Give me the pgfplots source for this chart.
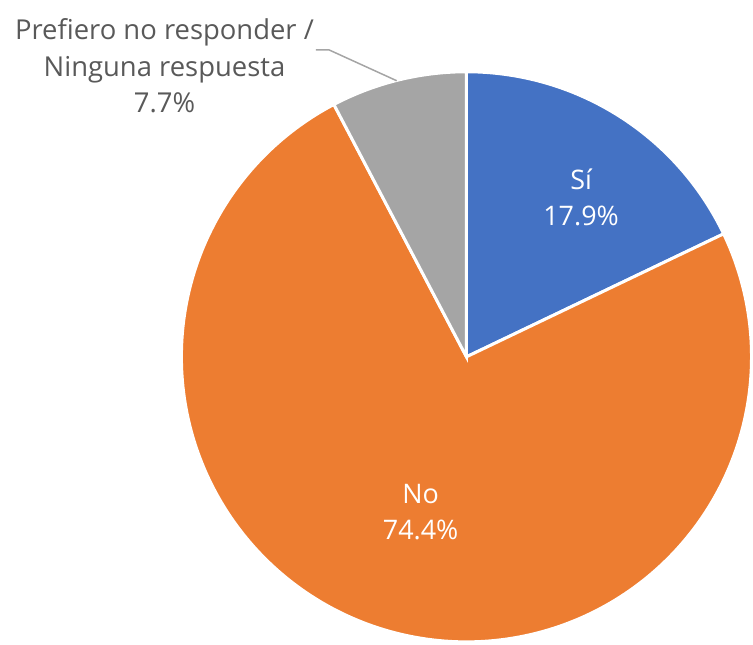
\documentclass[border=0pt]{standalone}
\usepackage{pgfplots}
\usepackage{pgfplotstable}
\pgfplotsset{compat=1.18}
\usepackage{fontspec}
\setmainfont{Open Sans}
\definecolor{cBlue}{HTML}{4472C4}
\definecolor{cOrange}{HTML}{ED7D31}
\definecolor{cGray}{HTML}{A5A5A5}
\definecolor{cText}{HTML}{595959}
\pgfplotstableread{
label share
Si 17.9
No 74.4
Pref 7.7
}\sharetable
\pgfplotstablegetelem{0}{share}\of\sharetable\let\sA\pgfplotsretval
\pgfplotstablegetelem{1}{share}\of\sharetable\let\sB\pgfplotsretval
\pgfplotstablegetelem{2}{share}\of\sharetable\let\sC\pgfplotsretval
\pgfmathsetmacro{\aA}{\sA*3.6}
\pgfmathsetmacro{\aB}{(\sA+\sB)*3.6}
\def\cx{468}\def\cy{358}\def\R{286}
\begin{document}
\begin{tikzpicture}
\begin{axis}[
  width=753pt, height=647pt, scale only axis,
  xmin=0, xmax=753, ymin=0, ymax=647, y dir=reverse,
  hide axis, clip=false,
]
\addplot[draw=none, forget plot] coordinates {(0,0) (753,647)};
\addplot[fill=cBlue, draw=white, line width=3pt, samples=120, domain=0:\aA, variable=\t]
  ({\cx+\R*sin(t)}, {\cy-\R*cos(t)}) -- (axis cs:\cx,\cy) -- cycle;
\addplot[fill=cOrange, draw=white, line width=3pt, samples=240, domain=\aA:\aB, variable=\t]
  ({\cx+\R*sin(t)}, {\cy-\R*cos(t)}) -- (axis cs:\cx,\cy) -- cycle;
\addplot[fill=cGray, draw=white, line width=3pt, samples=40, domain=\aB:360, variable=\t]
  ({\cx+\R*sin(t)}, {\cy-\R*cos(t)}) -- (axis cs:\cx,\cy) -- cycle;
\addplot[color=cGray, line width=1.5pt, no markers] coordinates {(317,50) (330,50) (398,81)};
\node[text=white, font=\fontsize{27}{36}\selectfont, align=center] at (axis cs:583,198) {Sí\\17.9\%};
\node[text=white, font=\fontsize{27}{36}\selectfont, align=center] at (axis cs:422,514) {No\\74.4\%};
\node[text=cText, font=\fontsize{27.5}{37}\selectfont, align=center] at (axis cs:165,66) {Prefiero no responder /\\Ninguna respuesta\\7.7\%};
\end{axis}
\end{tikzpicture}
\end{document}
